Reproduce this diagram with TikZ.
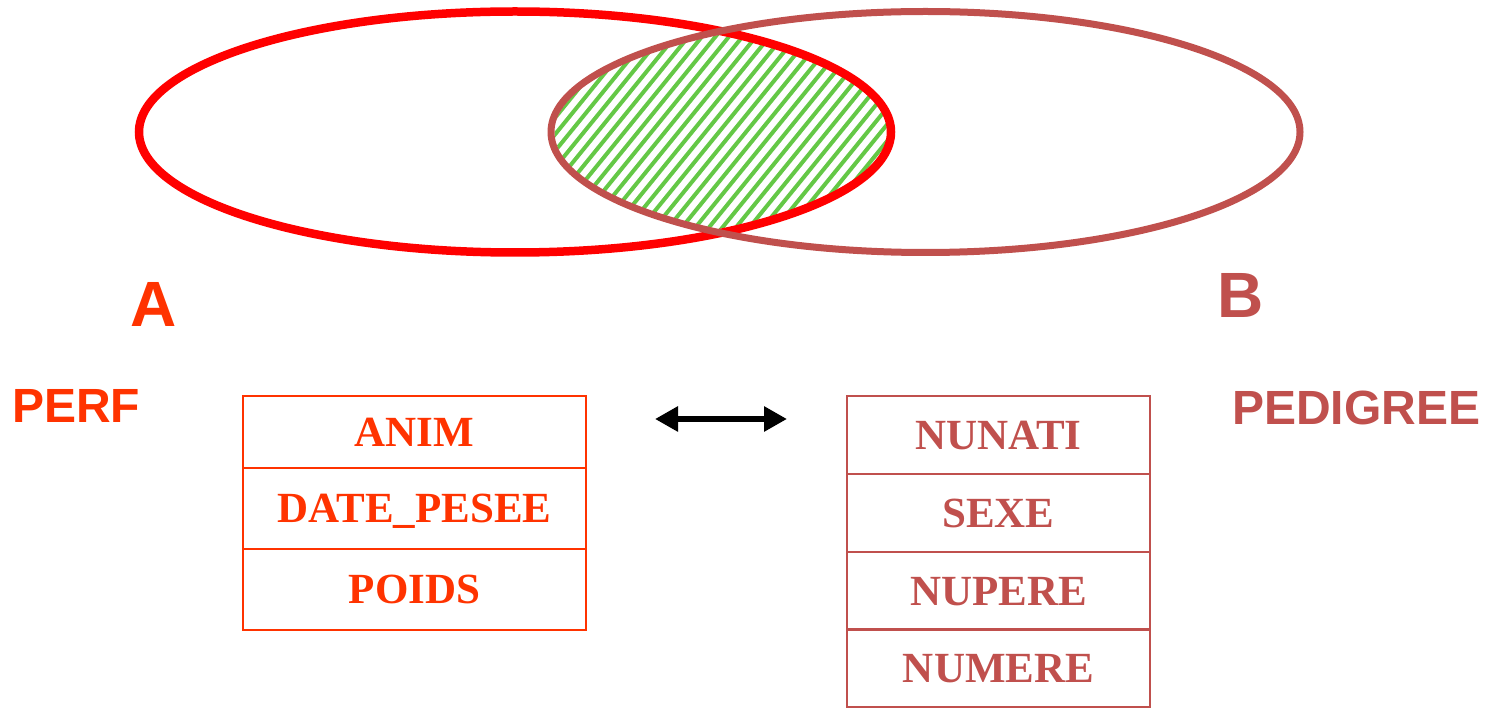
\documentclass[tikz,border=0pt]{standalone}
\usepackage{fontspec}
\setmainfont{Liberation Serif}
\newfontfamily\headfont{Liberation Sans}
\usetikzlibrary{arrows.meta}
\definecolor{cA}{RGB}{255,51,0}
\definecolor{cB}{RGB}{192,80,77}
\definecolor{ellA}{RGB}{255,0,0}
\definecolor{hatchgreen}{RGB}{100,200,70}
\tikzset{
  bigletter/.style={font=\headfont\bfseries\fontsize{64}{64}\selectfont, anchor=base, inner sep=0pt},
  tablename/.style={font=\headfont\bfseries\fontsize{48}{48}\selectfont, anchor=base west, inner sep=0pt},
  rowA/.style={draw=cA, text=cA, line width=2.5pt, minimum width=343pt, inner sep=0pt,
     font=\bfseries\fontsize{43}{43}\selectfont, text height=28.5pt, text depth=0pt},
  rowB/.style={draw=cB, text=cB, line width=2.5pt, minimum width=303pt, minimum height=78pt, inner sep=0pt,
     font=\bfseries\fontsize{43}{43}\selectfont, text height=28.5pt, text depth=0pt},
}
\begin{document}
\begin{tikzpicture}[x=1pt,y=-1pt]
\useasboundingbox (0,0) rectangle (1489,708);
% hatched intersection
\begin{scope}
  \clip (515,132) ellipse [x radius=372, y radius=116];
  \clip (925.5,132) ellipse [x radius=371, y radius=117];
  \foreach \i in {0,...,50} {
    \draw[hatchgreen, line width=4pt] ({380+13.5*\i},300) -- ({380+13.5*\i+260},-20);
  }
\end{scope}
% ellipses
\draw[ellA, line width=8.5pt] (515,132) ellipse [x radius=376, y radius=120.5];
\draw[cB, line width=7pt] (925.5,132) ellipse [x radius=374.5, y radius=120.5];
% labels
\node[bigletter, text=cA] (labA) at (154,327) {A};
\node[bigletter, text=cB] (labB) at (1241,318) {B};
\node[tablename, text=cA] (perf) at (12,423) {PERF};
\node[tablename, text=cB] (ped) at (1232,425) {PEDIGREE};
% table A
\node[rowA, minimum height=72pt] (a1) at (414.5,432) {ANIM};
\node[rowA, minimum height=81pt] (a2) at (414.5,508.5) {DATE\_PESEE};
\node[rowA, minimum height=81pt] (a3) at (414.5,589.5) {POIDS};
% table B
\node[rowB] (b1) at (998.5,435) {NUNATI};
\node[rowB] (b2) at (998.5,513) {SEXE};
\node[rowB] (b3) at (998.5,591) {NUPERE};
\node[rowB] (b4) at (998.5,668) {NUMERE};
% arrow
\coordinate (la) at (655,419);
\coordinate (ra) at (787,419);
\draw[line width=6pt, {Triangle[length=23pt,width=24pt]}-{Triangle[length=23pt,width=24pt]}] (la) -- (ra);
\end{tikzpicture}
\end{document}
